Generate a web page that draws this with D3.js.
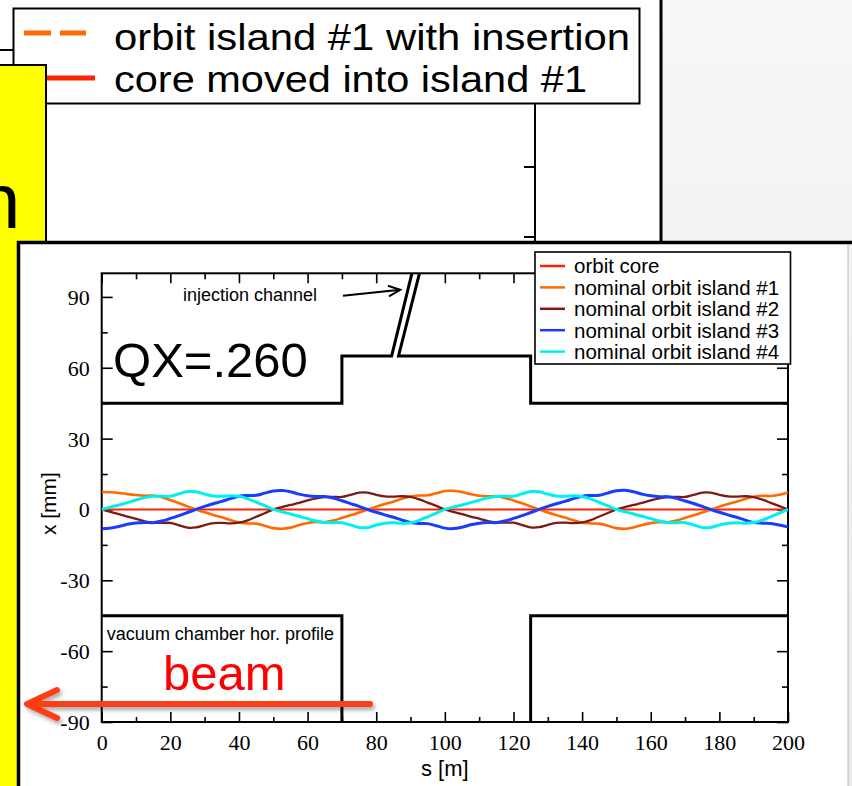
<!DOCTYPE html>
<html lang="en">
<head>
<meta charset="UTF-8">
<script src="https://d3js.org/d3.v7.min.js"></script>
<title>Orbit islands QX=.260</title>
<style>
  body { margin: 0; background: #fff; }
  svg { display: block; }
  .sans { font-family: "Liberation Sans", Arial, sans-serif; }
  .serif { font-family: "Liberation Serif", "Times New Roman", serif; }
  .axis path { display: none; }
  .axis line { stroke: #000; stroke-width: 1.6px; }
</style>
</head>
<body>
<div id="chart"></div>
<script>
// ---- data ----
// longitudinal position s [m] of the sampled orbit points
const sPos = [0, 2.5, 5, 7.5, 10, 12.5, 15, 17.5, 20, 22.5, 25, 27.5, 30, 32.5, 35, 37.5, 40, 42.5, 45, 47.5,
  50, 52.5, 55, 57.5, 60, 62.5, 65, 67.5, 70, 72.5, 75, 77.5, 80, 82.5, 85, 87.5, 90, 92.5, 95, 97.5,
  100, 102.5, 105, 107.5, 110, 112.5, 115, 117.5, 120, 122.5, 125, 127.5, 130, 132.5, 135, 137.5, 140, 142.5, 145, 147.5,
  150, 152.5, 155, 157.5, 160, 162.5, 165, 167.5, 170, 172.5, 175, 177.5, 180, 182.5, 185, 187.5, 190, 192.5, 195, 197.5, 200];

// orbit core (flat)
const coreS = [0, 200];
const coreX = [0, 0];

// island #1 (orange)
const island1 = [7.4, 7.3, 7.0, 6.5, 6.1, 5.8, 5.9, 5.2, 4.0, 2.7, 1.3, 0.0, -1.2, -2.3, -3.3, -4.5, -5.5, -5.9, -6.0, -6.9,
  -7.9, -8.2, -7.7, -6.6, -5.7, -5.3, -5.4, -4.7, -3.6, -2.5, -1.3, 0.0, 1.2, 2.3, 3.3, 4.5, 5.5, 5.9, 6.0, 6.9,
  7.8, 7.9, 7.4, 6.5, 5.8, 5.6, 5.6, 4.9, 3.8, 2.6, 1.3, 0.0, -1.3, -2.4, -3.4, -4.6, -5.6, -5.9, -6.0, -6.9,
  -7.9, -8.2, -7.6, -6.6, -5.8, -5.4, -5.4, -4.7, -3.6, -2.5, -1.3, 0.0, 1.2, 2.3, 3.3, 4.4, 5.4, 5.8, 5.7, 6.2, 7.2];

// island #2 (brown)
const island2 = [0.0, -1.0, -2.0, -3.0, -4.0, -5.0, -5.6, -5.7, -5.7, -6.7, -7.7, -7.6, -6.6, -5.8, -5.7, -5.9, -5.6, -4.6, -3.1, -1.6,
  0.0, 1.0, 1.9, 2.8, 3.8, 4.7, 5.2, 5.3, 5.3, 6.2, 7.1, 7.1, 6.2, 5.5, 5.4, 5.6, 5.3, 4.3, 2.9, 1.5,
  0.0, -1.0, -2.0, -3.0, -3.9, -4.9, -5.5, -5.6, -5.6, -6.6, -7.6, -7.5, -6.5, -5.7, -5.6, -5.8, -5.5, -4.5, -3.0, -1.5,
  0.0, 1.0, 1.9, 2.8, 3.8, 4.7, 5.2, 5.3, 5.3, 6.2, 7.1, 7.1, 6.2, 5.5, 5.4, 5.6, 5.2, 4.2, 2.8, 1.4, 0.0];

// island #3 (blue)
const island3 = [-8.2, -7.9, -7.2, -6.3, -5.7, -5.5, -5.6, -4.9, -3.8, -2.6, -1.3, 0.0, 1.3, 2.4, 3.4, 4.6, 5.6, 5.9, 6.0, 6.9,
  7.8, 8.0, 7.5, 6.5, 5.8, 5.5, 5.5, 4.8, 3.7, 2.5, 1.3, 0.0, -1.2, -2.3, -3.3, -4.5, -5.5, -5.9, -6.0, -6.9,
  -7.9, -8.1, -7.5, -6.5, -5.8, -5.5, -5.6, -4.9, -3.8, -2.6, -1.3, 0.0, 1.3, 2.4, 3.4, 4.6, 5.6, 5.9, 6.0, 7.0,
  7.9, 8.1, 7.5, 6.5, 5.8, 5.4, 5.4, 4.7, 3.6, 2.5, 1.3, 0.0, -1.2, -2.3, -3.3, -4.5, -5.5, -5.8, -5.9, -6.6, -7.5];

// island #4 (cyan)
const island4 = [0.0, 1.0, 1.9, 2.9, 4.0, 5.0, 5.6, 5.6, 5.6, 6.6, 7.6, 7.5, 6.5, 5.7, 5.6, 5.8, 5.6, 4.6, 3.1, 1.6,
  0.0, -1.0, -1.9, -2.9, -3.9, -4.9, -5.5, -5.6, -5.6, -6.6, -7.6, -7.7, -6.6, -5.8, -5.6, -5.9, -5.6, -4.6, -3.1, -1.6,
  0.0, 1.0, 1.9, 2.9, 3.9, 4.9, 5.5, 5.6, 5.6, 6.6, 7.6, 7.5, 6.5, 5.7, 5.6, 5.8, 5.5, 4.5, 3.0, 1.5,
  0.0, -1.0, -1.9, -2.9, -3.9, -4.9, -5.5, -5.6, -5.6, -6.6, -7.6, -7.6, -6.6, -5.8, -5.6, -5.8, -5.5, -4.5, -3.0, -1.5, 0.0];

const seriesNames = ["orbit core", "nominal orbit island #1", "nominal orbit island #2",
  "nominal orbit island #3", "nominal orbit island #4"];
const seriesColors = ["#ff2200", "#ff6a00", "#7d1a12", "#1a3cff", "#00f0f0"];
const seriesWidths = [2, 2.6, 2.3, 3, 3];

// vacuum chamber horizontal profile [s, x]
const chamberUpperLeft = [[0, 45], [70, 45], [70, 65], [84.5, 65], [90.4, 100]];
const chamberUpperRight = [[92.6, 100], [86.5, 65], [125, 65], [125, 45], [200, 45]];
const chamberLowerLeft = [[0, -45], [70, -45], [70, -90]];
const chamberLowerRight = [[125, -90], [125, -45], [200, -45]];

const xMajorTicks = [0, 20, 40, 60, 80, 100, 120, 140, 160, 180, 200];
const xMinorTicks = [10, 30, 50, 70, 90, 110, 130, 150, 170, 190];
const yMajorTicks = [-90, -60, -30, 0, 30, 60, 90];
const yMinorTicks = [-75, -45, -15, 15, 45, 75];

const topLegendNames = ["orbit island #1 with insertion", "core moved into island #1"];

// ---- drawing ----
const W = 852, H = 786;
const svg = d3.select("#chart").append("svg")
  .attr("width", W).attr("height", H);

const defs = svg.append("defs");
const grad = defs.append("linearGradient").attr("id", "bg")
  .attr("x1", 0).attr("y1", 0).attr("x2", 0).attr("y2", 1);
grad.append("stop").attr("offset", "0%").attr("stop-color", "#f7f7f7");
grad.append("stop").attr("offset", "100%").attr("stop-color", "#e9e9e9");
const shadow = defs.append("filter").attr("id", "shadow")
  .attr("x", "-20%").attr("y", "-50%").attr("width", "140%").attr("height", "200%");
shadow.append("feDropShadow").attr("dx", 2).attr("dy", 3).attr("stdDeviation", 2)
  .attr("flood-color", "#000").attr("flood-opacity", 0.35);

svg.append("rect").attr("width", W).attr("height", H).attr("fill", "url(#bg)");

// underlying slide figure (top)
svg.append("rect").attr("x", -5).attr("y", -5).attr("width", 666).attr("height", 248)
  .attr("fill", "#fff");
svg.append("line").attr("x1", 661).attr("x2", 661).attr("y1", 0).attr("y2", 242)
  .attr("stroke", "#000").attr("stroke-width", 3);
svg.append("path").attr("d", "M0,50H535V242").attr("fill", "none")
  .attr("stroke", "#000").attr("stroke-width", 2);
[167, 237].forEach(t => {
  svg.append("line").attr("x1", 524).attr("x2", 535).attr("y1", t).attr("y2", t)
    .attr("stroke", "#000").attr("stroke-width", 2);
});
svg.append("rect").attr("x", 13.5).attr("y", 8.5).attr("width", 626).attr("height", 95)
  .attr("fill", "#fff").attr("stroke", "#000").attr("stroke-width", 2);
svg.append("line").attr("x1", 24).attr("x2", 86).attr("y1", 33).attr("y2", 33)
  .attr("stroke", "#ff6a00").attr("stroke-width", 5).attr("stroke-dasharray", "27,9");
svg.append("line").attr("x1", 24).attr("x2", 95).attr("y1", 78).attr("y2", 78)
  .attr("stroke", "#ff2200").attr("stroke-width", 5);
svg.selectAll("text.tl").data(topLegendNames).enter().append("text")
  .attr("class", "tl sans")
  .attr("x", 114).attr("y", (d, i) => 50 + i * 42)
  .attr("font-size", 37)
  .attr("textLength", (d, i) => i === 0 ? 516 : 473)
  .attr("lengthAdjust", "spacingAndGlyphs")
  .text(d => d);

// yellow box on the left
svg.append("rect").attr("x", -3).attr("y", 65).attr("width", 49).attr("height", 730)
  .attr("fill", "#ffff00").attr("stroke", "#000").attr("stroke-width", 2);
svg.append("text").attr("class", "sans").attr("x", -23).attr("y", 228)
  .attr("font-size", 78).text("n");

// main box
svg.append("rect").attr("x", 17).attr("y", 242).attr("width", 831).attr("height", 560)
  .attr("fill", "#fff");
svg.append("path").attr("d", "M18.5,800V242.5H852").attr("fill", "none")
  .attr("stroke", "#000").attr("stroke-width", 3.5);
svg.append("line").attr("x1", 848).attr("x2", 848).attr("y1", 244).attr("y2", H)
  .attr("stroke", "#b8b8b8").attr("stroke-width", 1);

// plot
const x = d3.scaleLinear().domain([0, 200]).range([101.7, 788]);
const y = d3.scaleLinear().domain([-90, 100]).range([722, 273.3]);

defs.append("clipPath").attr("id", "plotclip").append("rect")
  .attr("x", x(0)).attr("y", y(100)).attr("width", x(200) - x(0)).attr("height", y(-90) - y(100));

const tickText = g => g.selectAll("text").attr("font-size", 22).attr("fill", "#000").attr("font-family", null);
const axes = svg.append("g");
axes.append("g").attr("class", "axis serif").attr("transform", `translate(0,${y(-90)})`)
  .call(d3.axisBottom(x).tickValues(xMajorTicks).tickSize(-10).tickPadding(12).tickFormat(d => String(d)))
  .call(tickText);
axes.append("g").attr("class", "axis").attr("transform", `translate(0,${y(-90)})`)
  .call(d3.axisBottom(x).tickValues(xMinorTicks).tickSize(-5).tickFormat(""));
axes.append("g").attr("class", "axis").attr("transform", `translate(0,${y(100)})`)
  .call(d3.axisTop(x).tickValues(xMajorTicks).tickSize(-10).tickFormat(""));
axes.append("g").attr("class", "axis").attr("transform", `translate(0,${y(100)})`)
  .call(d3.axisTop(x).tickValues(xMinorTicks).tickSize(-6).tickFormat(""));
axes.append("g").attr("class", "axis serif").attr("transform", `translate(${x(0)},0)`)
  .call(d3.axisLeft(y).tickValues(yMajorTicks).tickSize(-11).tickPadding(12).tickFormat(d => String(d)))
  .call(tickText)
  .call(g => g.selectAll("text").attr("dy", "0.34em"));
axes.append("g").attr("class", "axis").attr("transform", `translate(${x(0)},0)`)
  .call(d3.axisLeft(y).tickValues(yMinorTicks).tickSize(-6).tickFormat(""));
axes.append("g").attr("class", "axis").attr("transform", `translate(${x(200)},0)`)
  .call(d3.axisRight(y).tickValues(yMajorTicks).tickSize(-11).tickFormat(""));
axes.append("g").attr("class", "axis").attr("transform", `translate(${x(200)},0)`)
  .call(d3.axisRight(y).tickValues(yMinorTicks).tickSize(-6).tickFormat(""));

svg.append("rect").attr("x", x(0)).attr("y", y(100))
  .attr("width", x(200) - x(0)).attr("height", y(-90) - y(100))
  .attr("fill", "none").attr("stroke", "#000").attr("stroke-width", 2);

// axis titles
svg.append("text").attr("class", "sans").attr("font-size", 21)
  .attr("transform", `translate(56,${y(2.5)}) rotate(-90)`)
  .attr("text-anchor", "middle").text("x [mm]");
svg.append("text").attr("class", "sans").attr("font-size", 22)
  .attr("x", (x(0) + x(200)) / 2).attr("y", 776)
  .attr("text-anchor", "middle").text("s [m]");

// vacuum chamber
const chamberLine = d3.line().x(d => x(d[0])).y(d => y(d[1]));
const chamberG = svg.append("g").attr("clip-path", "url(#plotclip)");
[chamberUpperLeft, chamberUpperRight, chamberLowerLeft, chamberLowerRight].forEach(c => {
  chamberG.append("path").attr("d", chamberLine(c)).attr("fill", "none")
    .attr("stroke", "#000").attr("stroke-width", 3).attr("stroke-linejoin", "miter");
});

// orbits
const orbitG = svg.append("g").attr("clip-path", "url(#plotclip)");
const orbitLine = d3.line().curve(d3.curveCatmullRom.alpha(0.5)).x(d => x(d[0])).y(d => y(d[1]));
const seriesData = [
  d3.zip(coreS, coreX),
  d3.zip(sPos, island1),
  d3.zip(sPos, island2),
  d3.zip(sPos, island3),
  d3.zip(sPos, island4)
];
seriesData.forEach((pts, i) => {
  orbitG.append("path").attr("d", orbitLine(pts)).attr("fill", "none")
    .attr("stroke", seriesColors[i]).attr("stroke-width", seriesWidths[i])
    .attr("stroke-linejoin", "round");
});

// annotations
svg.append("text").attr("class", "sans").attr("font-size", 49)
  .attr("x", x(3.3)).attr("y", y(56.3)).text("QX=.260");
svg.append("text").attr("class", "sans").attr("font-size", 18)
  .attr("x", x(23.7)).attr("y", y(88.2)).text("injection channel");
svg.append("text").attr("class", "sans").attr("font-size", 18)
  .attr("x", x(1.5)).attr("y", y(-55.2)).text("vacuum chamber hor. profile");

// injection arrow
const a0 = [x(70.3), y(90.5)], a1 = [x(87), y(93)];
const ang = Math.atan2(a1[1] - a0[1], a1[0] - a0[0]);
const hl = 13, ha = 0.42;
svg.append("path")
  .attr("d", `M${a0}L${a1}M${a1[0] - hl * Math.cos(ang - ha)},${a1[1] - hl * Math.sin(ang - ha)}L${a1}L${a1[0] - hl * Math.cos(ang + ha)},${a1[1] - hl * Math.sin(ang + ha)}`)
  .attr("fill", "none").attr("stroke", "#000").attr("stroke-width", 2);

// legend
const lg = svg.append("g");
lg.append("rect").attr("x", 535).attr("y", 252).attr("width", 255.5).attr("height", 112)
  .attr("fill", "#fff").attr("stroke", "#000").attr("stroke-width", 1.6);
seriesNames.forEach((name, i) => {
  const cy = 266 + i * 21.4;
  lg.append("line").attr("x1", 540).attr("x2", 565).attr("y1", cy).attr("y2", cy)
    .attr("stroke", seriesColors[i]).attr("stroke-width", 2.5);
  lg.append("text").attr("class", "sans").attr("font-size", 20.5)
    .attr("x", 574).attr("y", cy + 7.3).text(name);
});

// beam arrow overlay
const beam = svg.append("g").attr("filter", "url(#shadow)");
beam.append("path").attr("d", "M370,704H30M57,690L27,704L57,718")
  .attr("fill", "none").attr("stroke", "#ff3d17").attr("stroke-width", 6)
  .attr("stroke-linecap", "round").attr("stroke-linejoin", "round");
svg.append("text").attr("class", "sans").attr("font-size", 49).attr("fill", "#ff0000")
  .attr("x", x(35.7)).attr("y", y(-76.4)).attr("text-anchor", "middle").text("beam");
</script>
</body>
</html>
